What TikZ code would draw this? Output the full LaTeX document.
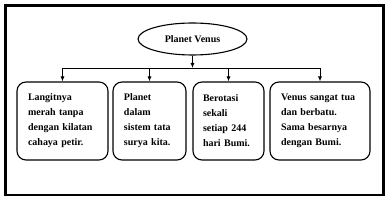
\documentclass[tikz,border=0pt]{standalone}
\usepackage{fontspec}
\setmainfont{Liberation Serif}
\usetikzlibrary{shapes.geometric,arrows.meta}
\begin{document}
\begin{tikzpicture}[x=1pt,y=-1pt,
  infobox/.style={draw,line width=1.1pt,rounded corners=9pt,inner xsep=11pt,inner ysep=0pt,
    align=left,minimum height=78pt,font=\fontsize{10}{15}\selectfont\bfseries},
  conn/.style={line width=0.8pt,-{Latex[length=5pt,width=4pt]}}]
\useasboundingbox (0,0) rectangle (392,203);
\draw[line width=2.4pt] (5.5,5.5) rectangle (383.5,195);
\node[draw,ellipse,line width=1.1pt,minimum width=109pt,minimum height=32pt,inner sep=0pt,
  font=\fontsize{10}{12}\selectfont\bfseries] (root) at (192.5,39) {Planet Venus};
\node[infobox,text width=69pt] (b1) at (62.5,121) {Langitnya\\merah tanpa\\dengan kilatan\\cahaya petir.};
\node[infobox,text width=51pt] (b2) at (149.5,121) {Planet\\dalam\\sistem tata\\surya kita.};
\node[infobox,text width=51pt,inner xsep=10pt] (b3) at (228.5,121) {Berotasi\\sekali\\setiap 244\\hari Bumi.};
\node[infobox,text width=78pt] (b4) at (320,121) {Venus sangat tua\\dan berbatu.\\Sama besarnya\\dengan Bumi.};
\coordinate (hub) at (root.south |- 0,68);
\coordinate (l) at (b1.north |- 0,68);
\coordinate (r) at (b4.north |- 0,68);
\draw[conn] (root.south) -- (hub);
\draw[line width=0.8pt] (l) -- (r);
\foreach \b in {b1,b2,b3,b4}
  \draw[conn] (\b.north |- 0,68) -- (\b.north);
\end{tikzpicture}
\end{document}
